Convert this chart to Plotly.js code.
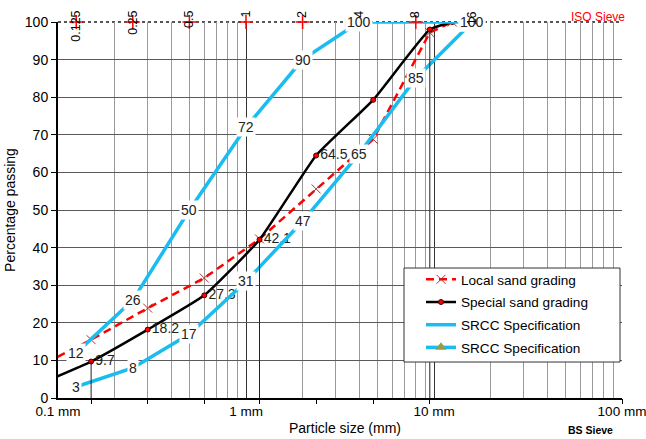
<!DOCTYPE html>
<html>
<head>
<meta charset="utf-8">
<script src="https://cdn.plot.ly/plotly-3.0.1.min.js"></script>
<style>html,body{margin:0;padding:0;background:#fff;}#chart{width:646px;height:439px;}</style>
</head>
<body>
<div id="chart"></div>
<script>
// ---- data ----
const bsSieve = [0.075, 0.15, 0.3, 0.6, 1.18, 2.36, 4.75, 9.5, 12.5];
const localSand = [7.8, 15.5, 23.9, 31.9, 42.3, 55.6, 68.8, 97.2, 100];
const specialSand = [3.2, 9.7, 18.2, 27.3, 42.1, 64.5, 79.3, 98.0, 100];
const specialLabels = ['', '9.7', '18.2', '27.3', '42.1', '64.5', '', '', ''];
const dropIdx = [1, 4, 7];

const isoSieve = [0.125, 0.25, 0.5, 1, 2, 4, 8, 16];
const isoLabels = ['0.125', '0.25', '0.5', '1', '2', '4', '8', '16'];
const srccLower = [3, 8, 17, 31, 47, 65, 85, 100];
const srccUpperX = [0.125, 0.25, 0.5, 1, 2, 4, 16];
const srccUpper = [12, 26, 50, 72, 90, 100, 100];

const xMajor = [0.1, 1, 10, 100];
const xMajorLabels = ['0.1 mm', '1 mm', '10 mm', '100 mm'];
const xMinor = [0.2,0.3,0.4,0.5,0.6,0.7,0.8,0.9,2,3,4,5,6,7,8,9,20,30,40,50,60,70,80,90];
const bsTicks = [0.15, 0.3, 0.6, 1.18, 2.36, 4.75, 9.5, 100];

const BLUE = '#1BBCEF';
const FONT = 'Liberation Sans, Arial, sans-serif';

// drop lines from selected points
const dropX = [], dropY = [];
dropIdx.forEach(i => { dropX.push(bsSieve[i], bsSieve[i], null); dropY.push(specialSand[i], 0, null); });

const traces = [
  {x: dropX, y: dropY, xaxis: 'x3', yaxis: 'y', mode: 'lines', line: {color: '#222', width: 1},
   showlegend: false, hoverinfo: 'skip'},
  {x: bsSieve, y: localSand, name: 'Local sand grading', mode: 'lines+markers', legendgroup: 'a',
   line: {color: '#FF0000', width: 2.5, dash: '8px,5px'},
   marker: {symbol: 'x-thin', size: 9, color: '#B03030', line: {color: '#B03030', width: 1}}},
  {x: bsSieve, y: specialSand, name: 'Special sand grading', mode: 'lines+markers+text', legendgroup: 'b',
   text: specialLabels, textposition: 'middle right', textfont: {size: 14, color: '#222', family: FONT},
   line: {color: '#000', width: 2.5, shape: 'spline', smoothing: 0.4},
   marker: {symbol: 'circle', size: 5, color: '#FF0000', line: {color: '#400', width: 1}}},
  {x: srccUpperX, y: srccUpper, name: 'SRCC Specification', mode: 'lines', legendgroup: 'c',
   line: {color: BLUE, width: 3.5}},
  {x: isoSieve, y: srccLower, name: 'SRCC Specification', mode: 'lines+markers', legendgroup: 'd',
   line: {color: BLUE, width: 3.5},
   marker: {symbol: 'triangle-up', size: 10, color: '#8FA04A'}},
  {x: isoSieve, y: isoSieve.map(() => 100), mode: 'markers', showlegend: false, hoverinfo: 'skip',
   cliponaxis: false,
   marker: {symbol: 'cross-thin', size: 10, color: '#FF0000', line: {color: '#FF0000', width: 1.5}}}
];

const annotations = [];
srccLower.forEach((v, i) => annotations.push({
  x: Math.log10(isoSieve[i]), y: v, xref: 'x', yref: 'y', text: String(v), showarrow: false,
  bgcolor: '#fff', borderpad: 1, font: {size: 14, color: '#222', family: FONT}
}));
srccUpper.forEach((v, i) => annotations.push({
  x: Math.log10(srccUpperX[i]), y: v, xref: 'x', yref: 'y', text: String(v), showarrow: false,
  bgcolor: '#fff', borderpad: 1, font: {size: 14, color: '#222', family: FONT}
}));
isoLabels.forEach((t, i) => annotations.push({
  x: Math.log10(isoSieve[i]), y: 1.0346, xref: 'x', yref: 'paper', text: t, showarrow: false,
  textangle: -90, xanchor: 'center', yanchor: 'top', font: {size: 12.5, color: '#000', family: FONT}
}));
annotations.push({x: 0.9574, y: 1.0133, xref: 'paper', yref: 'paper', text: 'ISO Sieve', showarrow: false,
  xanchor: 'center', yanchor: 'middle', font: {size: 12, color: '#FF0000', family: FONT}});
annotations.push({x: 0.9433, y: -0.0851, xref: 'paper', yref: 'paper', text: '<b>BS Sieve</b>', showarrow: false,
  xanchor: 'center', yanchor: 'middle', font: {size: 10.5, color: '#000', family: FONT}});
annotations.push({x: 0.509, y: -0.0798, xref: 'paper', yref: 'paper', text: 'Particle size (mm)', showarrow: false,
  xanchor: 'center', yanchor: 'middle', font: {size: 14, color: '#000', family: FONT}});

const layout = {
  width: 646, height: 439,
  margin: {l: 58, r: 24, t: 22, b: 41, pad: 0},
  paper_bgcolor: '#fff', plot_bgcolor: '#fff',
  font: {family: FONT, color: '#000'},
  showlegend: true,
  xaxis: {
    type: 'log', range: [-1, 2], tickmode: 'array', tickvals: xMajor, ticktext: xMajorLabels,
    ticks: '', showgrid: true, gridcolor: '#333', gridwidth: 1, ticklabeloverflow: 'allow',
    minor: {tickmode: 'array', tickvals: xMinor, showgrid: true, gridcolor: '#9a9a9a', gridwidth: 1, ticks: ''},
    showline: true, linecolor: '#000', linewidth: 2, zeroline: false,
    tickfont: {size: 13.5, family: FONT}, automargin: false
  },
  xaxis3: {
    type: 'log', range: [-1, 2], overlaying: 'x', anchor: 'y', side: 'bottom',
    tickmode: 'array', tickvals: bsTicks, ticks: 'outside', ticklen: 5, tickcolor: '#000', tickwidth: 1,
    showticklabels: false, showgrid: false, showline: false, zeroline: false
  },
  yaxis: {
    range: [0, 100], tick0: 0, dtick: 10, ticks: 'outside', ticklen: 5, tickcolor: '#000',
    showgrid: true, gridcolor: '#5a5a5a', gridwidth: 1,
    showline: true, linecolor: '#000', linewidth: 2, zeroline: false,
    tickfont: {size: 14, family: FONT}, automargin: false,
    title: {text: 'Percentage passing', font: {size: 14, family: FONT}, standoff: 6}
  },
  legend: {
    x: 0.6436, y: 0.3564, xanchor: 'left', yanchor: 'top', bgcolor: 'rgba(0,0,0,0)', borderwidth: 0,
    font: {size: 13.6, family: FONT, color: '#000'}, traceorder: 'grouped', tracegroupgap: 2, itemwidth: 30
  },
  shapes: [
    {type: 'line', xref: 'paper', yref: 'paper', x0: 0, x1: 1, y0: 1, y1: 1, layer: 'below',
     line: {color: '#555', width: 2, dash: 'dot'}},
    {type: 'rect', xref: 'paper', yref: 'paper', x0: 0.6135, x1: 0.9965, y0: 0.0957, y1: 0.3457, layer: 'above',
     fillcolor: '#fff', line: {color: '#333', width: 1}}
  ],
  annotations: annotations
};

Plotly.newPlot('chart', traces, layout, {staticPlot: true, displayModeBar: false});
</script>
</body>
</html>
